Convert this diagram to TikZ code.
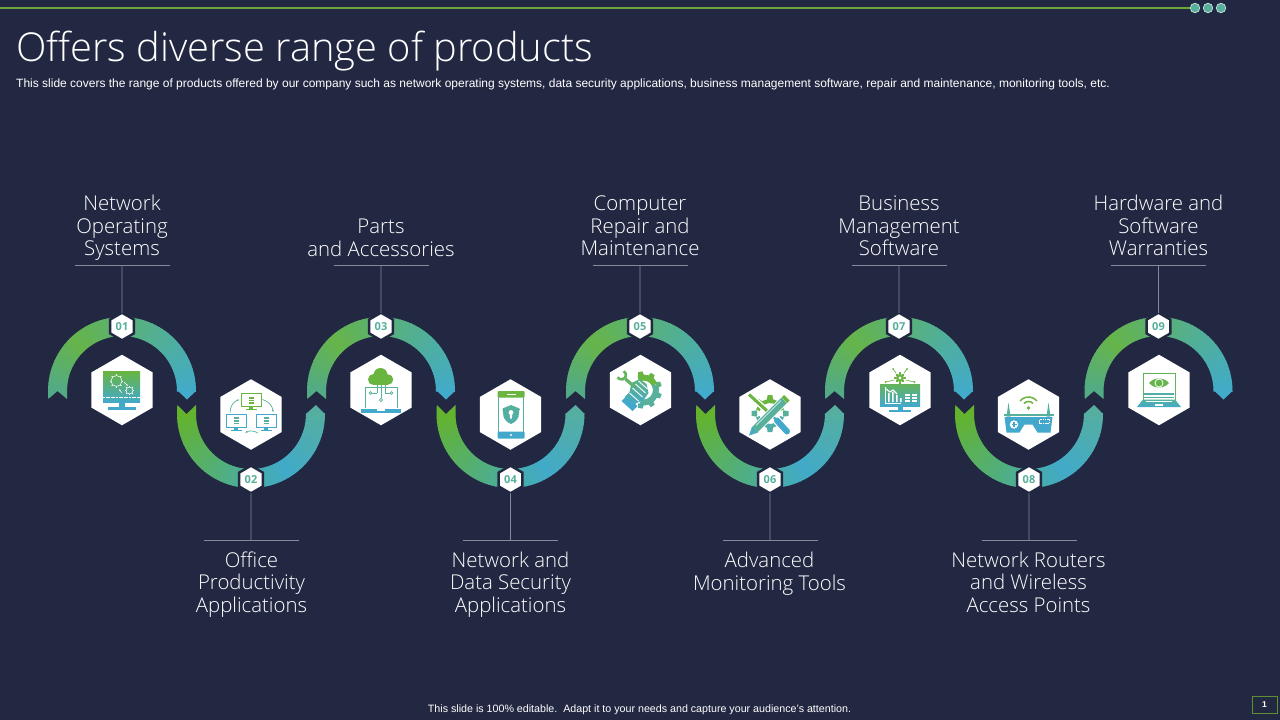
\documentclass[tikz,border=0pt]{standalone}
\usepackage{fontspec}
\setmainfont{Liberation Sans}
\newfontfamily\lightf{Open Sans Light}
\newfontfamily\regf{Open Sans}
\usetikzlibrary{shapes.geometric,arrows.meta}
\definecolor{bg}{HTML}{222842}
\definecolor{ig}{HTML}{6AB53F}
\definecolor{it}{HTML}{56B09C}
\definecolor{ib}{HTML}{43A9CC}
\definecolor{ruleg}{HTML}{858A9B}
\definecolor{topline}{HTML}{6FA83A}
\definecolor{rA}{HTML}{52AB85}
\definecolor{rB}{HTML}{66B44A}
\definecolor{rC}{HTML}{42ABCB}
\definecolor{sA}{HTML}{63B32E}
\definecolor{sB}{HTML}{41AAC9}
\definecolor{sC}{HTML}{55AEA0}
\tikzset{
  x=1pt,y=-1pt,
  bighex/.style={regular polygon,regular polygon sides=6,shape border rotate=30,minimum size=70.5pt,inner sep=0pt,outer sep=0pt,fill=white},
  numhex/.style={regular polygon,regular polygon sides=6,shape border rotate=30,minimum size=27.5pt,inner sep=0pt,outer sep=0pt,fill=white,draw=bg,line width=2.4pt,text=it,font=\regf\fontsize{11}{11}\selectfont\bfseries},
  lab/.style={align=center,inner sep=0pt,text=white,font=\lightf\fontsize{20.4}{22.5}\selectfont},
  rulel/.style={draw=ruleg,line width=.8pt},
  body/.style={inner sep=0pt,text=white},
  ol/.style={line width=.7pt},
}
\newcommand{\ringseg}[7]{%
  \foreach \i in {1,...,#7}{
    \pgfmathsetmacro\aa{#3+(#4-#3)*(\i-1)/#7}
    \pgfmathsetmacro\ab{#3+(#4-#3)*(\i+.2)/#7}
    \pgfmathsetmacro\pp{100*(\i-1)/#7}
    \fill[color={#6!\pp!#5}] ({#1+74*cos(\aa)},{#2-74*sin(\aa)}) -- ({#1+74*cos(\ab)},{#2-74*sin(\ab)}) -- ({#1+55*cos(\ab)},{#2-55*sin(\ab)}) -- ({#1+55*cos(\aa)},{#2-55*sin(\aa)}) -- cycle;
  }}
\newcommand{\ringtop}[2]{%
  \ringseg{#1}{#2}{180}{135}{rA}{rB}{15}
  \ringseg{#1}{#2}{135}{0}{rB}{rC}{45}
  \fill[rA] (#1-74,#2) -- (#1-73.7,#2+8) -- (#1-64.5,#2) -- (#1-55,#2+8) -- (#1-55,#2-.3) -- (#1-74,#2-.3) -- cycle;
  \fill[rC] (#1+74,#2-.3) -- (#1+74,#2) -- (#1+65,#2+8.5) -- (#1+55,#2-1) -- (#1+55,#2-.3) -- cycle;
}
\newcommand{\ringbot}[2]{%
  \ringseg{#1}{#2}{180}{300}{sA}{sB}{40}
  \ringseg{#1}{#2}{300}{360}{sB}{sC}{20}
  \fill[sA] (#1-74,#2+.3) -- (#1-73.7,#2-9) -- (#1-64.5,#2) -- (#1-55,#2-9) -- (#1-55,#2+.3) -- cycle;
  \fill[sC] (#1+74,#2+.3) -- (#1+74,#2) -- (#1+65,#2-9) -- (#1+55.5,#2-.5) -- (#1+55,#2+.3) -- cycle;
}
\newcommand{\gearline}[3]{%
  \draw[white,line width=.55pt] (#1,#2) circle[radius=#3];
  \foreach \t in {0,45,...,315}{\draw[white,line width=1pt] ({#1+#3*cos(\t)},{#2+#3*sin(\t)}) -- ({#1+(#3+1.3)*cos(\t)},{#2+(#3+1.3)*sin(\t)});}
}
\newcommand{\dbicon}[3]{%
  \fill[#3] (#1-2.5,#2-3.5) rectangle (#1+2.5,#2+3.5);
  \draw[white,line width=.4pt] (#1-2.5,#2-1.2) -- (#1+2.5,#2-1.2) (#1-2.5,#2+1.2) -- (#1+2.5,#2+1.2);
}
\newcommand{\monitor}[4]{% x y col dbcol
  \draw[#3,line width=.8pt,fill=white] (#1-10,#2-6.5) rectangle (#1+10,#2+6.5);
  \fill[#3] (#1-2,#2+6.5) rectangle (#1+2,#2+9);
  \fill[#3] (#1-5.5,#2+9) rectangle (#1+5.5,#2+10);
  \dbicon{#1}{#2}{#4}
}
% arc about a centre, angles measured with y pointing down: cx cy r a b style
\newcommand{\garc}[6]{\draw[#6] ({#1+#3*cos(#4)},{#2+#3*sin(#4)}) arc[start angle=#4,end angle=#5,radius=#3];}
% gear tooth: cx cy r0 r1 halfwidth angle colour
\newcommand{\gtooth}[7]{\fill[#7] ({#1+#3*cos(#6)-#5*sin(#6)},{#2+#3*sin(#6)+#5*cos(#6)}) -- ({#1+#3*cos(#6)+#5*sin(#6)},{#2+#3*sin(#6)-#5*cos(#6)}) -- ({#1+#4*cos(#6)+.75*#5*sin(#6)},{#2+#4*sin(#6)-.75*#5*cos(#6)}) -- ({#1+#4*cos(#6)-.75*#5*sin(#6)},{#2+#4*sin(#6)+.75*#5*cos(#6)}) -- cycle;}
\begin{document}
\begin{tikzpicture}
\useasboundingbox (0,0) rectangle (1280,720);
\fill[bg] (0,0) rectangle (1280,720);
% top decoration
\coordinate (tl0) at (0,8);
\node[circle,fill=it,draw=white!70!it,line width=.7pt,minimum size=9.5pt,inner sep=0pt] (d1) at (1195,8) {};
\node[circle,fill=it,draw=white!70!it,line width=.7pt,minimum size=9.5pt,inner sep=0pt] (d2) at (1208,8) {};
\node[circle,fill=it,draw=white!70!it,line width=.7pt,minimum size=9.5pt,inner sep=0pt] (d3) at (1221,8) {};
\draw[topline,line width=1.6pt] (tl0) -- (d1);
% title
\node[anchor=base west,inner sep=0pt,text=white,font=\lightf\fontsize{39.8}{42}\selectfont] (title) at (16,61) {Offers diverse range of products};
\node[anchor=west,body,font=\fontsize{12}{13}\selectfont] (sub) at (16,84) {This slide covers the range of products offered by our company such as network operating systems, data security applications, business management software, repair and maintenance, monitoring tools, etc.};
\node[body,font=\fontsize{10.68}{12}\selectfont] (foot) at (639.5,710) {This slide is 100\% editable.\ \ Adapt it to your needs and capture your audience's attention.};
\node[draw=topline!85!black,line width=.9pt,minimum width=25pt,minimum height=17pt,inner sep=0pt,text=white,font=\fontsize{8.5}{9}\selectfont\bfseries] (pg) at (1264.5,704.5) {1};
% rings
\ringtop{122}{391}\ringbot{251}{414}\ringtop{381}{391}\ringbot{510.5}{414}\ringtop{640}{391}\ringbot{770}{414}\ringtop{899}{391}\ringbot{1029}{414}\ringtop{1158.5}{391}
% big hexes
\node[bighex] (h1) at (122,390) {};
\node[bighex] (h2) at (251,414.5) {};
\node[bighex] (h3) at (381,390) {};
\node[bighex] (h4) at (510.5,414.5) {};
\node[bighex] (h5) at (640.5,390) {};
\node[bighex] (h6) at (770,414.5) {};
\node[bighex] (h7) at (900,390) {};
\node[bighex] (h8) at (1028.5,414.5) {};
\node[bighex] (h9) at (1159,390) {};
% labels
\node[lab,anchor=south,text depth=5pt] (l1) at (122,261) {Network\\Operating\\Systems};
\node[lab,anchor=south,text depth=5pt] (l3) at (381,261.5) {Parts\\and Accessories};
\node[lab,anchor=south,text depth=5pt] (l5) at (640,261) {Computer\\Repair and\\Maintenance};
\node[lab,anchor=south,text depth=5pt] (l7) at (899,261) {Business\\Management\\Software};
\node[lab,anchor=south,text depth=5pt] (l9) at (1158.5,261) {Hardware and\\Software\\Warranties};
\node[lab,anchor=south,text depth=5pt] (l2) at (251.5,617.5) {Office\\Productivity\\Applications};
\node[lab,anchor=south,text depth=5pt] (l4) at (510.5,617.5) {Network and\\Data Security\\Applications};
\node[lab,anchor=south,text depth=5pt] (l6) at (769.5,595.5) {Advanced\\Monitoring Tools};
\node[lab,anchor=south,text depth=5pt] (l8) at (1028.5,617.5) {Network Routers\\and Wireless\\Access Points};
% number hexes
\node[numhex] (n1) at (122,326.5) {01};
\node[numhex] (n2) at (251,479.5) {02};
\node[numhex] (n3) at (381,326.5) {03};
\node[numhex] (n4) at (510.5,479.5) {04};
\node[numhex] (n5) at (640,326.5) {05};
\node[numhex] (n6) at (770,479.5) {06};
\node[numhex] (n7) at (899,326.5) {07};
\node[numhex] (n8) at (1029,479.5) {08};
\node[numhex] (n9) at (1158.5,326.5) {09};
% connectors
\foreach \n/\xx in {1/122,3/381,5/640,7/899,9/1158.5}{
  \coordinate (ra\n) at (\xx-47.5,265); \coordinate (rb\n) at (\xx+47.5,265); \coordinate (rc\n) at (\xx,265);
  \draw[rulel] (ra\n) -- (rb\n);
  \draw[rulel] (rc\n) -- (n\n.north);
}
\foreach \n/\xx in {2/251,4/510.5,6/770,8/1029}{
  \coordinate (ra\n) at (\xx-47.5,540.5); \coordinate (rb\n) at (\xx+47.5,540.5); \coordinate (rc\n) at (\xx,540.5);
  \draw[rulel] (ra\n) -- (rb\n);
  \draw[rulel] (rc\n) -- (n\n.south);
}
% icon 1
\begin{scope}[shift={(122,390)}]
  \shade[top color=ig,bottom color=ib] (-19,-19) rectangle (18,12);
  \fill[ib] (-3,12) rectangle (3,17);
  \fill[ib] (-14,17) rectangle (14,20) ;
  \draw[white,line width=.6pt,dash pattern=on 2pt off .6pt] (-19,7.5) -- (18,7.5);
  \gearline{-5.5}{-9}{5.5}
  \gearline{7.5}{.5}{3.5}
  \draw[white,line width=.5pt,-{Latex[length=2pt]}] (2,-8) -- (6,-4);
  \draw[white,line width=.5pt,-{Latex[length=2pt]}] (0,3) -- (-3,-1);
\end{scope}
% icon 2
\begin{scope}[shift={(251,414.5)}]
  \monitor{0}{-14.5}{ig}{ig}
  \monitor{-15}{6}{ib}{it}
  \monitor{15}{6}{ib}{it}
  \draw[it,ol,-{Latex[length=2.5pt]}] (-21,-2) to[bend left=35] (-11.5,-15);
  \draw[it,ol,-{Latex[length=2.5pt]}] (11.5,-15) to[bend left=35] (22,-2);
  \draw[it,ol,-{Latex[length=2.5pt]}] (7,18.5) to[bend right=30] (-6,18.5);
\end{scope}
% icon 3
\begin{scope}[shift={(381,390)}]
  \draw[it,line width=1pt] (-16,18) -- (-16,-3) -- (16,-3) -- (16,18);
  \fill[ig] (-7.5,-10.5) circle[radius=5.5] (-.5,-15) circle[radius=7] (7,-10.5) circle[radius=5.2];
  \fill[ig] (-7.5,-10.5) rectangle (7,-5.3);
  \draw[it,ol] (-4,-5) -- (-4,3) (0,-5) -- (0,8) (4,-5) -- (4,3);
  \draw[it,ol] (-4,3) -- (-9,3) (4,3) -- (9,3);
  \draw[it,ol,fill=white] (-10.5,3) circle[radius=1.4] (10.5,3) circle[radius=1.4] (0,10) circle[radius=1.6];
  \fill[ib] (-20,19) rectangle (20,23);
  \fill[white] (-4,19) rectangle (4,20.5);
\end{scope}
% icon 4
\begin{scope}[shift={(510.5,414.5)}]
  \draw[it,line width=1pt] (-12,-20) rectangle (13,21);
  \fill[ig,rounded corners=1pt] (-13,-23.5) rectangle (14,-17);
  \fill[white] (-4,-21) rectangle (5,-20);
  \fill[ib,rounded corners=1pt] (-13,17) rectangle (14,24);
  \fill[white] (.5,20.5) circle[radius=1.2];
  \shade[top color=it,bottom color=it!70!ib] (.5,-9.5) -- (9,-6) -- (8,2) .. controls (6.5,6) and (4,8) .. (.5,9.5) .. controls (-3,8) and (-5.5,6) .. (-7,2) -- (-8,-6) -- cycle;
  \fill[white] (.5,-2) circle[radius=2.4];
  \fill[white] (-.7,-1) -- (1.7,-1) -- (1.4,4) -- (-.4,4) -- cycle;
\end{scope}
% icon 5
\begin{scope}[shift={(640.5,390)}]
  \garc{3}{0}{12.5}{-115}{-25}{ig,line width=6pt}
  \garc{3}{0}{12.5}{-25}{105}{it,line width=6pt}
  \foreach \t/\c in {-100/ig,-60/ig,-20/it!60!ig,20/it,60/it,100/it!70!ib}{
    \gtooth{3}{0}{14}{18.5}{3}{\t}{\c}
  }
  \fill[ib] (-19,11) -- (-8,21) -- (-3,16) -- (-14,6) -- cycle;
  \shade[top color=it!70!ig,bottom color=ib] (-9,-7) -- (-1,-11) -- (6,-6) -- (8,3) -- (3,10) -- (-4,13) -- (-7,15) -- (-16,7) -- (-11,2) -- cycle;
  \draw[white,line width=.9pt] (-5,-6) -- (5,3) (-8,-2) -- (2,7) (-2,-9) -- (7,-1) (-11,3) -- (-2,11);
  \draw[ig!60!it,line width=3.2pt] (-15,-11) -- (-7,-4);
  \garc{-19}{-15}{4.5}{-60}{150}{ig!70!it,line width=2.6pt}
\end{scope}
% icon 6
\begin{scope}[shift={(770,414.5)}]
  \garc{0}{-1}{12.5}{-165}{-15}{ig,line width=4pt}
  \garc{0}{-1}{12.5}{15}{165}{it!70!ib,line width=4pt}
  \foreach \t/\c in {-90/ig,-45/ig,0/it,45/it!70!ib,90/it!70!ib,135/it,180/it,-135/ig}{
    \gtooth{0}{-1}{13}{18.5}{3.2}{\t}{\c}
  }
  \draw[white,line width=6pt] (-21,-20) -- (2,1);
  \draw[white,line width=8.5pt] (3,2) -- (19,18.5);
  \draw[ig,line width=3pt] (-21,-20) -- (1,0);
  \draw[it,line width=2.2pt] (1,0) -- (6,5);
  \draw[ib,line width=6pt,line cap=round] (7,6) -- (17,17);
  \draw[white,line width=9.5pt] (-15,15) -- (14,-14);
  \draw[it,line width=7.5pt] (-15,15) -- (14,-14);
  \shade[left color=ib,right color=it] (-18,12) -- (-12,18) -- (-21,21) -- cycle;
  \fill[ig] (11.5,-17) -- (17,-11.5) -- (19.5,-14) -- (14,-19.5) -- cycle;
  \draw[white,line width=.6pt] (-14,11) -- (11,-14);
\end{scope}
% icon 7
\begin{scope}[shift={(900,390)}]
  \fill[ig] (0,-12) circle[radius=4];
  \foreach \t in {0,45,...,315}{\fill[ig] ({4.8*cos(\t)-1},{-12+4.8*sin(\t)-1}) rectangle ++(2,2);}
  \fill[white] (0,-12) circle[radius=1.6];
  \draw[ig,ol] (-4,-17) -- (-7,-21) (4,-17) -- (7,-21) (-6,-10) -- (-14,-8) (6,-10) -- (14,-8);
  \fill[ig] (-7,-21) circle[radius=1] (7,-21) circle[radius=1] (-14.5,-8) circle[radius=1] (14.5,-8) circle[radius=1];
  \shade[top color=ig!70!it,bottom color=ib] (-20,-6) rectangle (20,16);
  \fill[ib] (-2.5,16) rectangle (2.5,20);
  \fill[ib] (-11,20) rectangle (11,21.5);
  \draw[white,line width=1.1pt] (-14,-1) -- (-10,2) -- (-7,0) -- (-3,4);
  \fill[white] (-12,3) rectangle (-10.5,12) (-8,2) rectangle (-6.5,12) (-4,5) rectangle (-2.5,12) (0,8) rectangle (1.5,12);
  \draw[white,line width=.6pt] (-15,-3) -- (-15,13) -- (1,13);
  \foreach \yy in {11,8,5}{\draw[white,line width=1.2pt] (5,\yy) -- (10,\yy) (12,\yy) -- (17,\yy);}
\end{scope}
% icon 8
\begin{scope}[shift={(1028.5,414.5)}]
  \garc{0}{-6.5}{11}{-140}{-40}{ig,line width=1.5pt}
  \garc{0}{-6.5}{6.5}{-135}{-45}{ig,line width=1.5pt}
  \fill[ig] (0,-6.5) circle[radius=1.9];
  \fill[it] (-20,-12) -- (-18,2) -- (-22,2) -- cycle;
  \fill[it] (20,-12) -- (18,2) -- (22,2) -- cycle;
  \fill[it] (-25,-1) rectangle (25,1);
  \fill[ib] (-24,2.5) -- (24,2.5) -- (22,18) -- (9,18) -- (4,10) -- (-4,10) -- (-9,18) -- (-22,18) -- cycle;
  \fill[white] (-14.5,10) circle[radius=4.2];
  \draw[ib,line width=1.2pt] (-17,10) -- (-12,10) (-14.5,7.5) -- (-14.5,12.5);
  \draw[white,line width=.5pt,dash pattern=on 1.2pt off .6pt] (11,5) rectangle (21,9);
\end{scope}
% icon 9
\begin{scope}[shift={(1159,390)}]
  \draw[ig!70!it,line width=1pt] (-16,10) -- (-16,-17) -- (16,-17) -- (16,10);
  \fill[ig!85!it] (-10,-7) .. controls (-5,-13) and (5,-13) .. (10,-7) .. controls (5,-1) and (-5,-1) .. (-10,-7) -- cycle;
  \draw[white,line width=.8pt] (0,-7) circle[radius=4];
  \shade[top color=it,bottom color=ib] (-16,9.5) -- (16,9.5) -- (22,17) -- (-22,17) -- cycle;
  \fill[it!75!ib] (-15,3) rectangle (15,4.5);
  \fill[it!75!ib] (-15,6.5) rectangle (15,7.5);
  \draw[white,line width=.7pt] (-13,11.5) -- (13,11.5);
  \fill[white] (-4,13.5) rectangle (4,16);
\end{scope}
\end{tikzpicture}
\end{document}
